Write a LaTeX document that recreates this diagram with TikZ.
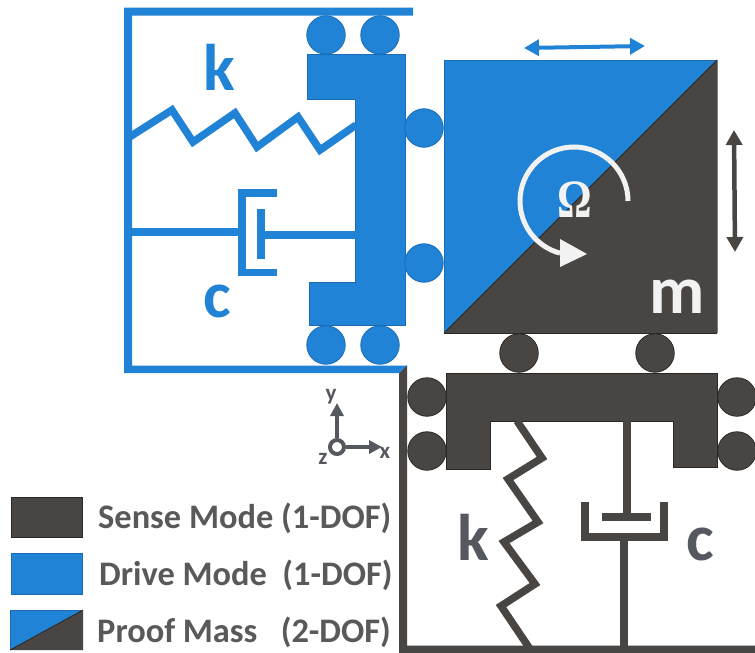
\documentclass[tikz,border=0pt]{standalone}
\usepackage{fontspec}
\setmainfont{Carlito}
\newfontfamily\serifbf{Liberation Serif}
\usetikzlibrary{arrows.meta}
\definecolor{bluem}{HTML}{2183D6}
\definecolor{blueedge}{HTML}{1A6CB4}
\definecolor{darkm}{HTML}{494542}
\definecolor{darkedge}{HTML}{2A2725}
\definecolor{graytxt}{HTML}{55585F}
\definecolor{legtxt}{HTML}{595959}
\definecolor{whitem}{HTML}{F2F2F2}
\newcommand{\fsz}[1]{\fontsize{#1}{#1}\selectfont}
\tikzset{
  bluebody/.style={fill=bluem,draw=blueedge,line width=0.8pt},
  darkbody/.style={fill=darkm,draw=darkedge,line width=0.8pt},
  bluer/.style={circle,minimum size=38.5pt,inner sep=0pt,bluebody},
  darkr/.style={circle,minimum size=38.5pt,inner sep=0pt,darkbody},
  blueline/.style={draw=bluem,line width=7.5pt,miter limit=10},
  darkline/.style={draw=darkm,line width=7.5pt,miter limit=10},
  biglabel/.style={inner sep=0pt,anchor=base,font=\bfseries\fsz{66}},
  leglabel/.style={inner sep=0pt,anchor=base west,text=legtxt,font=\bfseries\fsz{34.4}},
  axlabel/.style={inner sep=0pt,text=graytxt,font=\bfseries\fsz{23}},
  axisarrow/.style={draw=graytxt,line width=4pt,-{Triangle[length=13pt,width=13pt]}},
  moveblue/.style={draw=bluem,line width=4pt,{Triangle[length=15pt,width=16pt]}-{Triangle[length=15pt,width=16pt]}},
  movedark/.style={draw=darkm,line width=4.5pt,{Triangle[length=15pt,width=16pt]}-{Triangle[length=15pt,width=16pt]}},
}
\begin{document}
\begin{tikzpicture}[x=1pt,y=-1pt]
\useasboundingbox (0,0) rectangle (755,653);
% sense frame
\fill[darkm] (399,373) -- (407,365) -- (407,645.5) -- (755,645.5) -- (755,653) -- (399,653) -- cycle;
% drive frame
\fill[bluem] (124,7.5) -- (413,7.5) -- (413,15.5) -- (132,15.5) -- (132,365.5) -- (407,365.5) -- (399,373) -- (124,373) -- cycle;
% drive body
\draw[bluebody] (307.5,54) -- (405,54) -- (405,325) -- (309,325) -- (309,282) -- (355,282) -- (355,99) -- (307.5,99) -- cycle;
\coordinate (dbodyS) at (356,125);
\coordinate (dbodyD) at (356,235);
\coordinate (dframeS) at (128,138);
\coordinate (dframeD) at (128,232);
\node[bluer] (dr1) at (326,35) {};
\node[bluer] (dr2) at (380,35) {};
\node[bluer] (dr3) at (326,345) {};
\node[bluer] (dr4) at (380,345) {};
\node[bluer] (dr5) at (424,128) {};
\node[bluer] (dr6) at (424,263) {};
% drive spring
\draw[blueline] (dframeS) -- (172,110) -- (193,142) -- (235,113) -- (257,147) -- (298,117) -- (320,150) -- (dbodyS);
% drive damper
\coordinate (dcup) at (242,232);
\coordinate (dpist) at (261,235);
\draw[blueline] (dframeD) -- (dcup);
\draw[blueline] (277,193) -- (242,193) -- (242,272.5) -- (277,272.5);
\draw[blueline] (261,209) -- (261,259);
\draw[blueline] (dpist) -- (dbodyD);
\node[biglabel,text=bluem] (dk) at (219,90) {k};
\node[biglabel,text=bluem] (dc) at (217,317) {c};
% proof mass
\fill[bluem] (444,60) -- (717,60) -- (444,333) -- cycle;
\fill[darkm] (717,60) -- (717,333) -- (444,333) -- cycle;
\draw[blueedge,line width=0.8pt] (444,333) -- (444,60) -- (717,60);
\draw[darkedge,line width=1pt] (444,333) -- (717,60);
\draw[darkedge,line width=0.8pt] (444,333) -- (717,333);
\draw[gray,line width=0.6pt] (717,60) -- (717,333);
\node[biglabel,text=whitem,font=\bfseries\fsz{68}] (mm) at (677,313) {m};
\node[inner sep=0pt,anchor=base,text=whitem,font=\serifbf\bfseries\fsz{54}] (om) at (575,217) {\scalebox{0.8}[1]{Ω}};
\draw[whitem,line width=5pt] (628,201) arc[start angle=0,end angle=255,radius=54pt];
\fill[whitem] (560,239) -- (587,254) -- (560,267) -- cycle;
% motion arrows
\coordinate (mbl) at (524,48);
\coordinate (mbr) at (645,46);
\coordinate (mdt) at (734,130);
\coordinate (mdb) at (735,252);
\draw[moveblue] (mbl) -- (mbr);
\draw[movedark] (mdt) -- (mdb);
% sense body
\draw[darkbody] (446,373) -- (717,373) -- (717,467) -- (673,467) -- (673,421) -- (490,421) -- (490,469) -- (446,469) -- cycle;
\node[darkr] (sr1) at (519,353) {};
\node[darkr] (sr2) at (655,353) {};
\node[darkr] (sr3) at (427,397) {};
\node[darkr] (sr4) at (427,451) {};
\node[darkr] (sr5) at (737,397) {};
\node[darkr] (sr6) at (737,451) {};
% sense spring
\coordinate (sbodyS) at (517,421);
\coordinate (sframeS) at (530,649);
\draw[darkline] (sbodyS) -- (542,458) -- (508,479) -- (538,522) -- (504,542) -- (535,584) -- (501,606) -- (sframeS);
% sense damper
\coordinate (sbodyD) at (627,421);
\coordinate (spist) at (627,517);
\coordinate (scup) at (624,537);
\coordinate (sframeD) at (624,649);
\draw[darkline] (sbodyD) -- (spist);
\draw[line width=8pt,draw=darkm] (602,517) -- (651,517);
\draw[darkline,line width=8pt] (585,502) -- (585,541);
\draw[darkline,line width=8pt] (664,502) -- (664,541);
\draw[darkline] (585,537) -- (664,537);
\draw[darkline] (scup) -- (sframeD);
\node[biglabel,text=graytxt] (sk) at (473,560) {k};
\node[biglabel,text=graytxt] (sc) at (700,560) {c};
% axes
\node[circle,draw=graytxt,fill=white,line width=4pt,minimum size=14pt,inner sep=0pt] (ax) at (337,447) {};
\coordinate (axy) at (337,403);
\coordinate (axx) at (382,447);
\draw[axisarrow] (ax) -- (axy);
\draw[axisarrow] (ax) -- (axx);
\node[axlabel] (ly) at (331,397) {y};
\node[axlabel] (lx) at (385,453) {x};
\node[axlabel] (lz) at (323,459) {z};
% legend
\draw[darkbody] (11,497) rectangle (82,537);
\draw[bluebody] (11,553) rectangle (82,594);
\fill[bluem] (10,610) -- (83,610) -- (10,650) -- cycle;
\fill[darkm] (83,610) -- (83,650) -- (10,650) -- cycle;
\draw[blueedge,line width=0.8pt] (10,650) -- (10,610) -- (83,610);
\draw[darkedge,line width=0.8pt] (10,650) -- (83,610);
\node[leglabel] (l1) at (98,528) {Sense Mode (1-DOF)};
\node[leglabel] (l2) at (99,585) {Drive Mode\ \ (1-DOF)};
\node[leglabel] (l3) at (97,642) {Proof Mass\ \ \ (2-DOF)};
\end{tikzpicture}
\end{document}
